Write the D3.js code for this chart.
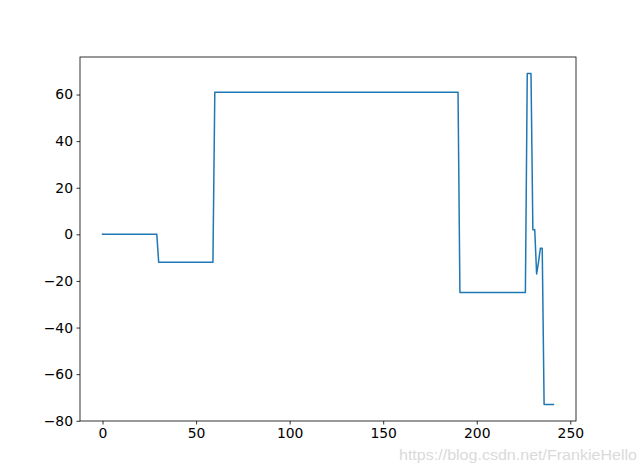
<!DOCTYPE html>
<html>
<head>
<meta charset="utf-8">
<script src="https://cdn.jsdelivr.net/npm/d3@7"></script>
<style>
  body { margin: 0; background: #fff; }
  svg { display: block; }
  .tick text { font-family: "DejaVu Sans", sans-serif; font-size: 13.9px; fill: #000; }
</style>
</head>
<body>
<script>
// values, one per index 0..241
const series = [
  0, 0, 0, 0, 0, 0, 0, 0, 0, 0, 0, 0, 0, 0, 0, 0, 0, 0, 0, 0,
  0, 0, 0, 0, 0, 0, 0, 0, 0, 0,
  -12, -12, -12, -12, -12, -12, -12, -12, -12, -12, -12, -12, -12, -12, -12,
  -12, -12, -12, -12, -12, -12, -12, -12, -12, -12, -12, -12, -12, -12, -12,
  61, 61, 61, 61, 61, 61, 61, 61, 61, 61, 61, 61, 61, 61, 61, 61, 61, 61, 61, 61,
  61, 61, 61, 61, 61, 61, 61, 61, 61, 61, 61, 61, 61, 61, 61, 61, 61, 61, 61, 61,
  61, 61, 61, 61, 61, 61, 61, 61, 61, 61, 61, 61, 61, 61, 61, 61, 61, 61, 61, 61,
  61, 61, 61, 61, 61, 61, 61, 61, 61, 61, 61, 61, 61, 61, 61, 61, 61, 61, 61, 61,
  61, 61, 61, 61, 61, 61, 61, 61, 61, 61, 61, 61, 61, 61, 61, 61, 61, 61, 61, 61,
  61, 61, 61, 61, 61, 61, 61, 61, 61, 61, 61, 61, 61, 61, 61, 61, 61, 61, 61, 61,
  61, 61, 61, 61, 61, 61, 61, 61, 61, 61, 61,
  -25, -25, -25, -25, -25, -25, -25, -25, -25, -25, -25, -25, -25, -25, -25, -25, -25, -25,
  -25, -25, -25, -25, -25, -25, -25, -25, -25, -25, -25, -25, -25, -25, -25, -25, -25, -25,
  69, 69, 69,
  2, 2,
  -17, -12, -6, -6,
  -73, -73, -73, -73, -73, -73
];
const xTicks = [0, 50, 100, 150, 200, 250];
const yTicks = [-80, -60, -40, -20, 0, 20, 40, 60];
const watermark = "https://blog.csdn.net/FrankieHello";

const width = 640, height = 473;
const margin = { left: 80, right: 64, top: 57, bottom: 52 };

const svg = d3.select("body").append("svg")
  .attr("width", width)
  .attr("height", height);

const n = series.length - 1;
const yMin = d3.min(series), yMax = d3.max(series);
const yPad = (yMax - yMin) * 0.05;

const x = d3.scaleLinear()
  .domain([-n * 0.05, n * 1.05])
  .range([margin.left, width - margin.right]);
const y = d3.scaleLinear()
  .domain([yMin - yPad, yMax + yPad])
  .range([height - margin.bottom, margin.top]);

const line = d3.line()
  .x((d, i) => x(i))
  .y(d => y(d));

svg.append("path")
  .datum(series)
  .attr("fill", "none")
  .attr("stroke", "#1f77b4")
  .attr("stroke-width", 1.5)
  .attr("stroke-linejoin", "round")
  .attr("stroke-linecap", "square")
  .attr("d", line);

const xAxis = svg.append("g")
  .attr("transform", `translate(0,${height - margin.bottom})`)
  .call(d3.axisBottom(x).tickValues(xTicks).tickSize(3.5).tickPadding(3.5));
const yAxis = svg.append("g")
  .attr("transform", `translate(${margin.left},0)`)
  .call(d3.axisLeft(y).tickValues(yTicks).tickSize(3.5).tickPadding(3.5));

[xAxis, yAxis].forEach(g => {
  g.select(".domain").remove();
  g.selectAll(".tick line").attr("stroke", "#000").attr("stroke-width", 0.8);
});

// spines
svg.append("rect")
  .attr("x", margin.left)
  .attr("y", margin.top)
  .attr("width", width - margin.left - margin.right)
  .attr("height", height - margin.top - margin.bottom)
  .attr("fill", "none")
  .attr("stroke", "#000")
  .attr("stroke-width", 0.8);

// csdn watermark
svg.append("text")
  .attr("x", 399)
  .attr("y", 459.5)
  .attr("textLength", 238)
  .attr("lengthAdjust", "spacingAndGlyphs")
  .attr("font-family", "Liberation Sans, Arial, sans-serif")
  .attr("font-size", 14.5)
  .attr("fill", "#dadada")
  .text(watermark);
</script>
</body>
</html>
